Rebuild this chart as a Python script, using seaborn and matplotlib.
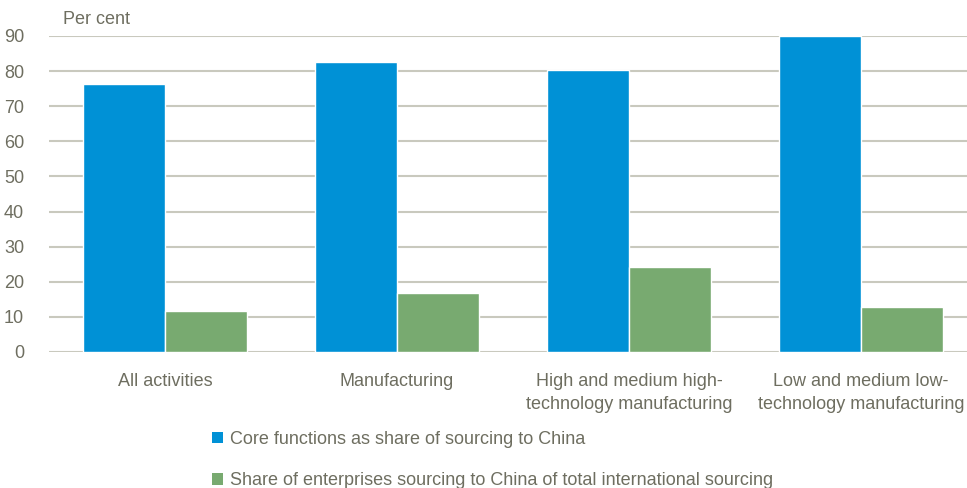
import matplotlib
matplotlib.use("Agg")
import matplotlib.pyplot as plt
from matplotlib.patches import Patch
import seaborn as sns
import pandas as pd

categories = [
    "All activities",
    "Manufacturing",
    "High and medium high-\ntechnology manufacturing",
    "Low and medium low-\ntechnology manufacturing",
]
series_names = [
    "Core functions as share of sourcing to China",
    "Share of enterprises sourcing to China of total international sourcing",
]
core_functions = [76.3, 82.6, 80.3, 90.0]
enterprises_share = [11.7, 16.8, 24.2, 12.8]
y_ticks = [0, 10, 20, 30, 40, 50, 60, 70, 80, 90]
colors = ["#0091d6", "#78aa70"]

sns.set_theme(style="white")
plt.rcParams["font.family"] = ["Liberation Sans Narrow", "Liberation Sans", "DejaVu Sans"]
text_color = "#6e6e60"
grid_color = "#c9c9be"

df = pd.DataFrame({
    "category": categories * 2,
    "series": [series_names[0]] * 4 + [series_names[1]] * 4,
    "value": core_functions + enterprises_share,
})

fig = plt.figure(figsize=(9.67, 4.88), dpi=100)
ax = fig.add_axes([49 / 967, 1 - 352 / 488, 918 / 967, (352 - 36) / 488])

for t in y_ticks:
    ax.axhline(t, color=grid_color, linewidth=1.5, zorder=0)

sns.barplot(
    data=df, x="category", y="value", hue="series", hue_order=series_names,
    palette=colors, saturation=1, width=0.71, edgecolor="white", linewidth=1.0,
    ax=ax, legend=False, zorder=2,
)

ax.set_xlim(-0.5, 3.457)
ax.set_ylim(0, 90)
ax.set_yticks(y_ticks)
ax.set_yticklabels([str(t) for t in y_ticks])
ax.set_xlabel("")
ax.set_ylabel("")
for s in ax.spines.values():
    s.set_visible(False)
ax.tick_params(axis="y", length=0, pad=18, labelsize=13, labelcolor=text_color)
ax.tick_params(axis="x", length=0, pad=15, labelsize=13, labelcolor=text_color)
for lbl in ax.get_xticklabels():
    lbl.set_linespacing(1.45)
    lbl.set_horizontalalignment("center")

fig.text(63 / 967, 1 - 20 / 488, "Per cent", fontsize=13, color=text_color,
         ha="left", va="center")

handles = [Patch(facecolor=c, edgecolor="none") for c in colors]
fig.legend(
    handles, series_names, loc="upper left", bbox_to_anchor=(212 / 967, 1 - 431 / 488),
    frameon=False, fontsize=13, labelcolor=text_color, handlelength=0.6,
    handleheight=0.6, handletextpad=0.4, labelspacing=1.35, borderaxespad=0,
    borderpad=0,
)

fig.savefig("out.png", dpi=100)
